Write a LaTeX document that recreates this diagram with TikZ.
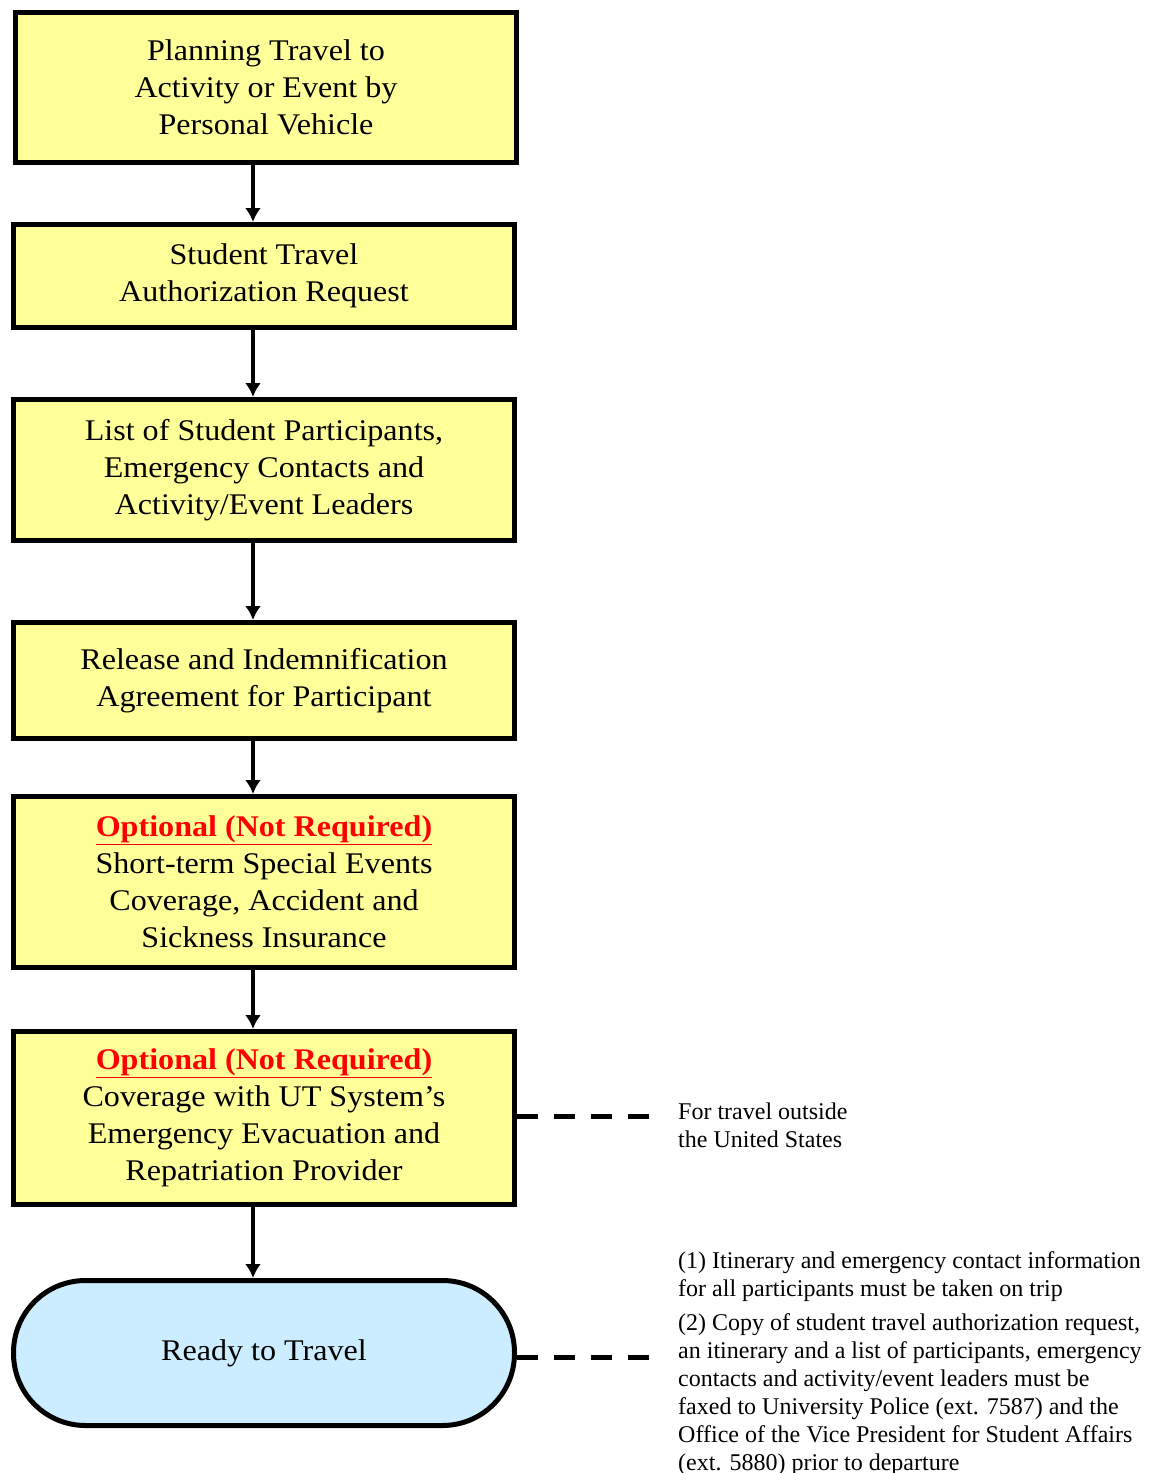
\documentclass[tikz,border=0pt]{standalone}
\usepackage{fontspec}
\setmainfont{Liberation Serif}
\newfontfamily\boxfont[FakeStretch=1.07,Ligatures=TeX]{Liberation Serif}
\usetikzlibrary{arrows.meta}
\usepackage{xcolor}
\definecolor{stepyellow}{HTML}{FFFF99}
\definecolor{readyblue}{HTML}{CCECFF}
\definecolor{optred}{HTML}{FF0000}
\newcommand{\optional}{{\color{optred}\bfseries\underline{Optional (Not Required)}}}
\tikzset{
  >={Latex[length=14pt,width=16pt]},
  step box/.style={draw=black,line width=5pt,fill=stepyellow,minimum width=501pt,
    align=center,inner sep=0pt,font=\boxfont\fontsize{30}{37}\selectfont},
  ready box/.style={draw=black,line width=5pt,fill=readyblue,minimum width=501pt,
    minimum height=145pt,rounded corners=72pt,align=center,font=\boxfont\fontsize{30}{37}\selectfont},
  connect/.style={->,line width=4.5pt},
  side link/.style={line width=5pt,dash pattern=on 21pt off 16pt},
  note/.style={align=left,anchor=north west,inner sep=0pt,font=\fontsize{24}{28}\selectfont}
}
\begin{document}
\begin{tikzpicture}[x=1pt,y=1pt]
  \useasboundingbox (0,0) rectangle (1158,-1473);

  % --- STEPS ---
  \node[step box, minimum height=150pt] (S1) at (266,-87.5) {Planning Travel to\\Activity or Event by\\Personal Vehicle};
  \node[step box, minimum height=103pt] (S2) at (264,-276) {Student Travel\\Authorization Request};
  \node[step box, minimum height=141pt] (S3) at (264,-470) {List of Student Participants,\\Emergency Contacts and\\Activity/Event Leaders};
  \node[step box, minimum height=116pt] (S4) at (264,-680.5) {Release and Indemnification\\Agreement for Participant};
  \node[step box, minimum height=171pt] (S5) at (264,-882) {\optional\\Short-term Special Events\\Coverage, Accident and\\Sickness Insurance};
  \node[step box, minimum height=173pt] (S6) at (264,-1118) {\optional\\Coverage with UT System’s\\Emergency Evacuation and\\Repatriation Provider};
  \node[ready box] (ready) at (264,-1353) {Ready to Travel};

  % --- CONNECTIONS (arrows run a bit left of centre) ---
  \coordinate (spine) at (253,0);
  \foreach \i/\j in {S1/S2,S2/S3,S3/S4,S4/S5,S5/S6,S6/ready} {
    \draw[connect] (\i.south -| spine) -- (\j.north -| spine);
  }

  % --- SIDE NOTES ---
  \node[note] (note-intl) at (678,-1103) {For travel outside\\the United States};
  \node[note] (note-ready) at (678,-1251) {(1) Itinerary and emergency contact information\\for all participants must be taken on trip\\[6pt](2) Copy of student travel authorization request,\\an itinerary and a list of participants, emergency\\contacts and activity/event leaders must be\\faxed to University Police (ext. 7587) and the\\Office of the Vice President for Student Affairs\\(ext. 5880) prior to departure};
  \coordinate (intl-end) at (652,-1116);
  \coordinate (ready-end) at (652,-1357);
  \draw[side link] (S6.east |- intl-end) -- (intl-end);
  \draw[side link] (ready.east |- ready-end) -- (ready-end);
\end{tikzpicture}
\end{document}
